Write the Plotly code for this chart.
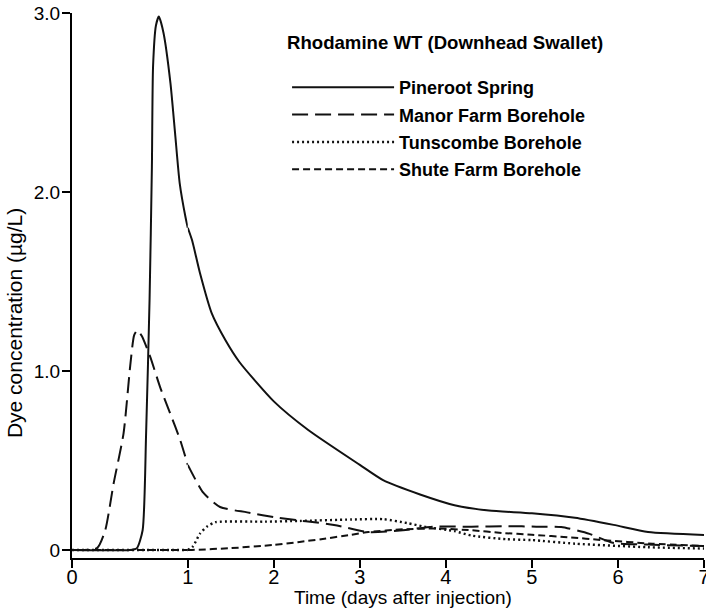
import plotly.graph_objects as go

# ---- data (days after injection, dye concentration ug/L) ----
pine_x = [0, 0.50, 0.56, 0.61, 0.64, 0.67, 0.69, 0.70, 0.725, 0.75, 0.79, 0.85, 0.89, 0.93, 0.98,
          1.0, 1.05, 1.14, 1.28, 1.44, 1.6, 2.0, 2.4, 3.0, 3.27, 3.7, 4.1, 4.5, 5.0, 5.5, 5.95, 6.35, 7.0]
pine_y = [0, 0, 0.01, 0.11, 0.65, 1.40, 2.14, 2.70, 2.93, 2.98, 2.89, 2.61, 2.33, 2.05, 1.86,
          1.80, 1.73, 1.55, 1.32, 1.17, 1.05, 0.83, 0.67, 0.475, 0.39, 0.31, 0.25, 0.22, 0.205, 0.18, 0.14, 0.10, 0.084]

manor_x = [0, 0.216, 0.287, 0.359, 0.445, 0.503, 0.537, 0.566, 0.603, 0.675, 0.761, 0.847, 0.934,
           1.0, 1.18, 1.375, 1.69, 2.04, 2.7, 3.1, 3.5, 3.85, 4.3, 4.72, 5.05, 5.34, 5.67, 5.94, 6.35, 7.0]
manor_y = [0, 0.01, 0.11, 0.37, 0.65, 1.03, 1.20, 1.228, 1.195, 1.08, 0.91, 0.765, 0.615,
           0.475, 0.32, 0.24, 0.21, 0.18, 0.14, 0.10, 0.11, 0.13, 0.13, 0.133, 0.13, 0.128, 0.09, 0.04, 0.03, 0.022]

tuns_x = [0, 1.0, 1.06, 1.14, 1.22, 1.32, 1.9, 2.3, 2.9, 3.27, 3.55, 3.75, 4.1, 4.3, 4.7, 5.0, 5.5, 6.35, 7.0]
tuns_y = [0, 0, 0.02, 0.09, 0.13, 0.155, 0.158, 0.162, 0.17, 0.172, 0.15, 0.13, 0.105, 0.08, 0.06, 0.055, 0.035, 0.015, 0.008]

shute_x = [0, 1.0, 1.05, 1.5, 2.0, 2.3, 2.55, 2.9, 3.1, 3.5, 3.9, 4.3, 4.65, 5.0, 5.45, 5.8, 6.4, 7.0]
shute_y = [0, 0, 0, 0.01, 0.028, 0.045, 0.06, 0.085, 0.10, 0.115, 0.12, 0.11, 0.095, 0.085, 0.07, 0.056, 0.035, 0.022]

series_names = ["Pineroot Spring", "Manor Farm Borehole", "Tunscombe Borehole", "Shute Farm Borehole"]
legend_title = "Rhodamine WT (Downhead Swallet)"
x_ticks_left = [0]
x_ticks_right = [1, 2, 3, 4, 5, 6, 7]
y_ticks = [0, 1, 2, 3]
y_ticktext = ["0", "1.0", "2.0", "3.0"]

styles = [
    dict(color="#111111", width=2.0, dash="solid"),
    dict(color="#111111", width=2.0, dash="16px,7px"),
    dict(color="#111111", width=2.4, dash="2px,3px"),
    dict(color="#111111", width=2.0, dash="7px,4px"),
]
data = [(pine_x, pine_y), (manor_x, manor_y), (tuns_x, tuns_y), (shute_x, shute_y)]

fig = go.Figure()
for name, (xs, ys), st in zip(series_names, data, styles):
    lx = [x for x in xs if x <= 1.0]
    ly = [y for x, y in zip(xs, ys) if x <= 1.0]
    rx = [x for x in xs if x >= 1.0]
    ry = [y for x, y in zip(xs, ys) if x >= 1.0]
    fig.add_trace(go.Scatter(x=lx, y=ly, mode="lines", name=name, legendgroup=name,
                             showlegend=True, line=dict(shape="spline", smoothing=0.6, **st),
                             xaxis="x", yaxis="y"))
    fig.add_trace(go.Scatter(x=rx, y=ry, mode="lines", name=name, legendgroup=name,
                             showlegend=False, line=dict(shape="spline", smoothing=0.6, **st),
                             xaxis="x2", yaxis="y"))

split = 0.1832
axis_common = dict(showline=True, linecolor="black", linewidth=2, ticks="outside", ticklen=8,
                   tickwidth=1.5, tickcolor="black", showgrid=False, zeroline=False, automargin=False,
                   ticklabelstandoff=-8, ticklabeloverflow="allow",
                   tickfont=dict(family="Liberation Sans Narrow, Liberation Sans, Arial", size=20, color="black"))

fig.update_layout(
    width=706, height=612,
    margin=dict(l=72, r=2, t=13, b=54),
    paper_bgcolor="white", plot_bgcolor="white",
    xaxis=dict(domain=[0, split], range=[0, 1], tickvals=x_ticks_left,
               ticktext=[str(v) for v in x_ticks_left], anchor="y", **axis_common),
    xaxis2=dict(domain=[split, 1], range=[1, 7.0001], tickvals=x_ticks_right,
                ticktext=[str(v) for v in x_ticks_right], anchor="y", **axis_common),
    yaxis=dict(range=[-0.045, 3.0001], tickvals=y_ticks, ticktext=y_ticktext, anchor="x",
               showline=True, linecolor="black", linewidth=2, ticks="outside", ticklen=8,
               tickwidth=1.5, tickcolor="black", showgrid=False, zeroline=False, automargin=False,
               ticklabelstandoff=-2, ticklabeloverflow="allow",
               tickfont=dict(family="Liberation Sans, Arial", size=19, color="black")),
    legend=dict(x=0.3403, y=0.8973, xanchor="left", yanchor="top", bgcolor="rgba(0,0,0,0)",
                traceorder="grouped", tracegroupgap=1, itemwidth=102,
                font=dict(family="Liberation Sans, Arial", size=18, color="black", weight="bold")),
    showlegend=True,
    annotations=[
        dict(text=legend_title, xref="paper", yref="paper", x=0.590, y=0.9455,
             xanchor="center", yanchor="middle", showarrow=False,
             font=dict(family="Liberation Sans, Arial", size=18.6, color="black", weight="bold")),
        dict(text="Time (days after injection)", xref="paper", yref="paper", x=0.524, y=-0.0716,
             xanchor="center", yanchor="middle", showarrow=False,
             font=dict(family="Liberation Sans Narrow, Liberation Sans, Arial", size=19, color="black")),
        dict(text="Dye concentration (µg/L)", xref="paper", yref="paper", x=-0.0918, y=0.431,
             xanchor="center", yanchor="middle", textangle=-90, showarrow=False,
             font=dict(family="Liberation Sans, Arial", size=21, color="black")),
    ],
)

fig.write_html("out.html", config={"displayModeBar": False},
               post_script="document.body.style.margin='0px';")
